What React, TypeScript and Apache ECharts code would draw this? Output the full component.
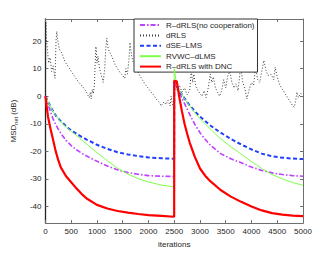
import React, { useEffect, useRef } from "react";
import * as echarts from "echarts";

const xTicks = [0, 500, 1000, 1500, 2000, 2500, 3000, 3500, 4000, 4500, 5000];
const yTicks = [-40, -30, -20, -10, 0, 10, 20];

const iterations = [0, 25, 50, 100, 150, 200, 250, 300, 400, 500, 600, 700, 800, 1000, 1200, 1400, 1600, 1800, 2000, 2250, 2499,
  2500, 2550, 2600, 2650, 2700, 2750, 2800, 2900, 3000, 3100, 3200, 3400, 3600, 3800, 4000, 4200, 4400, 4600, 4800, 5000];

const rdrlsNoCoop = [0, -1.5, -3, -5.8, -8.3, -10.3, -12, -13.5, -16, -17.9, -19.4, -20.6, -21.7, -23.6, -25.3, -26.7, -27.7, -28.3, -28.8, -29, -29.1,
  5.2, 3.2, 1.3, -0.8, -2.7, -4.6, -6.6, -10.2, -13.2, -15.6, -17.7, -20.8, -22.7, -24.1, -25.7, -26.9, -27.8, -28.4, -28.8, -29];

const dseLms = [0, -1, -2, -3.8, -5.5, -7, -8.1, -9.1, -10.9, -12.4, -13.6, -14.7, -15.7, -17.6, -19.1, -20.3, -21.1, -21.7, -22.2, -22.5, -22.7,
  5.3, 3.6, 2, 0.6, -0.8, -2.1, -3.3, -5.5, -7.4, -9, -10.6, -13.2, -15.5, -17.5, -19.3, -20.8, -21.8, -22.3, -22.6, -22.8];

const rvwcDlms = [0, -1, -2, -3.9, -5.6, -7, -8.2, -9.3, -11.1, -12.7, -14.2, -15.8, -17.3, -20.4, -23.4, -26.1, -28.2, -29.9, -31.1, -32.2, -32.9,
  10, 3.8, 2.1, 0.6, -0.9, -2.2, -3.5, -6, -8.1, -10, -11.9, -15.4, -18.3, -21, -23.7, -26.2, -28.4, -30, -31.3, -32.3];

const rdrlsDnc = [0, -4, -7.5, -12, -16, -20, -23.3, -25.9, -29, -31.2, -33.4, -35.4, -37.1, -39.4, -40.7, -41.6, -42.2, -42.7, -43.1, -43.4, -43.7,
  5.6, 5.4, -0.5, -5.5, -10, -13.5, -16.8, -22, -26.2, -28.8, -30.8, -34, -36.4, -38.3, -40, -41.4, -42.4, -42.9, -43.3, -43.5];

const drlsIterations = [0, 8, 20, 40, 60, 90, 120, 150, 185, 195, 205, 220, 240, 270, 320, 380, 450, 520, 580, 650, 720, 780, 820, 850, 870, 890,
  910, 930, 950, 965, 980, 1000, 1020, 1050, 1080, 1120, 1150, 1170, 1190, 1220, 1260, 1300, 1350, 1400, 1450, 1500, 1540, 1560, 1590, 1620,
  1640, 1670, 1700, 1740, 1780, 1830, 1880, 1930, 1990, 2050, 2100, 2150, 2200, 2250, 2300, 2340, 2380, 2420, 2440, 2460, 2490,
  2510, 2550, 2600, 2650, 2700, 2750, 2800, 2830, 2860, 2880, 2920, 2960, 3000, 3040, 3080, 3120, 3160, 3200, 3230, 3260, 3300, 3340,
  3380, 3420, 3460, 3500, 3540, 3580, 3620, 3660, 3700, 3740, 3790, 3830, 3870, 3910, 3950, 4000, 4040, 4080, 4120, 4160, 4200, 4240,
  4280, 4320, 4380, 4430, 4460, 4500, 4550, 4600, 4650, 4700, 4750, 4800, 4830, 4860, 4880, 4910, 4950, 5000];

const drlsValues = [0, 27, 20, 17, 12, 14, 9, 11, 6.5, 13, 20, 23.5, 20, 17, 15.5, 12.5, 10.5, 8.5, 6.8, 5, 3.5, 2, 0.5, -0.5, 1.5, -1,
  2.5, 1, 4, 12, 18, 12, 14.5, 10, 8, 5, 10, 17, 21, 17, 15.5, 14, 11.5, 10, 8.5, 7.5, 6.5, 10, 8, 13,
  19.5, 15, 12.5, 11, 9.5, 7.5, 6, 4.5, 3, 1.5, 0.5, -1, -2, -3.5, -2, -3, -1.5, -3.5, 0, -2.5, -4.5,
  3, 2, 4, 1.5, 3, 0.5, 2, 9, 5, 8, 3.5, 2, 1, 0, 2, -0.5, 3, 8, 5, 7, 3, 1.5,
  0, 2, 6, 3, 7.5, 9, 5, 3, 4.5, 2, 11, 5, 3, -1, 2, 5, 4, 10.5, 6, 5, 9, 13,
  9.5, 7.5, 8, 6, 10.5, 7, 4, 2.5, 1, -0.5, -2, -3.5, -4, -1.5, 1.5, -0.5, 1, 0.5];

const pair = (xs: number[], ys: number[]) => xs.map((x, i) => [x, ys[i]]);

const FONT = "Liberation Sans, Arial, sans-serif";
const TXT = "#262626";
const AX = "#6e6e6e";

export default function App() {
  const ref = useRef<HTMLDivElement>(null);
  useEffect(() => {
    const chart = echarts.init(ref.current!, null, { renderer: "svg" });
    const baseX = {
      type: "value" as const,
      min: 0,
      max: 5000,
      splitLine: { show: false },
      axisLine: { show: true, onZero: false, lineStyle: { color: AX, width: 1 } },
      axisTick: { show: true, inside: true, length: 3, customValues: xTicks, lineStyle: { color: AX } },
    };
    const baseY = {
      type: "value" as const,
      min: -46,
      max: 28,
      splitLine: { show: false },
      axisLine: { show: true, onZero: false, lineStyle: { color: AX, width: 1 } },
      axisTick: { show: true, inside: true, length: 3, customValues: yTicks, lineStyle: { color: AX } },
    };
    const mkSeries = (name: string, xs: number[], ys: number[], color: string, width: number, type: any, z: number) => ({
      name,
      type: "line",
      showSymbol: false,
      symbol: "circle",
      symbolSize: 0,
      data: pair(xs, ys),
      lineStyle: { color, width, type },
      itemStyle: { color, opacity: 0 },
      z,
    });
    chart.setOption({
      animation: false,
      backgroundColor: "#fff",
      textStyle: { fontFamily: FONT },
      grid: { left: 43, top: 19, right: 31, bottom: 29 },
      legend: {
        orient: "vertical",
        left: 134,
        top: 19,
        padding: [2, 3, 1.5, 5],
        itemWidth: 21,
        itemHeight: 8,
        itemGap: 2.4,
        borderColor: "#333",
        borderWidth: 1,
        backgroundColor: "#fff",
        borderRadius: 0,
        itemStyle: { opacity: 0, borderWidth: 0 },
        textStyle: { fontSize: 8, color: TXT, fontFamily: FONT, lineHeight: 8 },
        data: ["R–dRLS(no cooperation)", "dRLS", "dSE–LMS", "RVWC–dLMS", "R–dRLS with DNC"],
      },
      xAxis: [
        {
          ...baseX,
          position: "bottom",
          axisLabel: {
            customValues: xTicks,
            fontSize: 8,
            color: TXT,
            margin: 4,
            fontFamily: FONT,
            formatter: (v: number) => String(v),
          },
          name: "iterations",
          nameLocation: "middle",
          nameGap: 16,
          nameTextStyle: { fontSize: 8, color: TXT, fontFamily: FONT },
        },
        { ...baseX, position: "top", axisLabel: { show: false } },
      ],
      yAxis: [
        {
          ...baseY,
          position: "left",
          axisLine: { show: true, onZero: false, lineStyle: { color: "#222", width: 1.3 } },
          axisLabel: {
            customValues: yTicks,
            fontSize: 8,
            color: TXT,
            margin: 4,
            fontFamily: FONT,
            formatter: (v: number) => String(v),
          },
          name: "{a|MSD}{b|net}{a| (dB)}",
          nameLocation: "middle",
          nameGap: 23,
          nameTextStyle: {
            color: TXT,
            fontFamily: FONT,
            rich: {
              a: { fontSize: 8, color: TXT, fontFamily: FONT, lineHeight: 12, verticalAlign: "middle" },
              b: { fontSize: 5.5, color: TXT, fontFamily: FONT, lineHeight: 12, verticalAlign: "bottom", padding: [5, 0, 0, 0] },
            },
          },
        },
        { ...baseY, position: "right", axisLabel: { show: false } },
      ],
      series: [
        mkSeries("R–dRLS(no cooperation)", iterations, rdrlsNoCoop, "#bf40ff", 1.6, [5, 2, 1.5, 2], 3),
        mkSeries("dRLS", drlsIterations, drlsValues, "#3a3a3a", 1, [1, 2], 2),
        mkSeries("dSE–LMS", iterations, dseLms, "#1f3fff", 2, [4, 2.5], 4),
        mkSeries("RVWC–dLMS", iterations, rvwcDlms, "#7dff48", 1, "solid", 5),
        mkSeries("R–dRLS with DNC", iterations, rdrlsDnc, "#ff0000", 2.2, "solid", 6),
      ],
    });
    return () => chart.dispose();
  }, []);
  return <div ref={ref} style={{ position: "fixed", left: 0, top: 0, width: 334, height: 253 }} />;
}
